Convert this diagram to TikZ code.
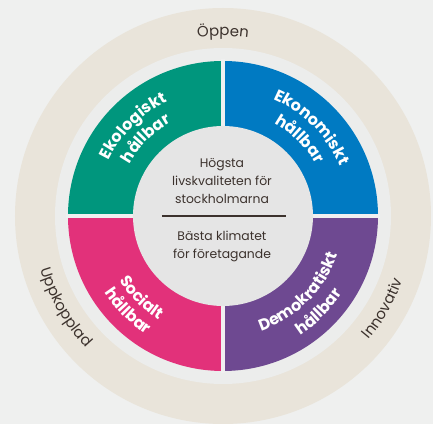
\documentclass[tikz,border=0pt]{standalone}
\usepackage{fontspec}
\setmainfont{Poppins}
\usetikzlibrary{decorations.text}

\definecolor{inkbrown}{RGB}{60,50,45}
\newcommand{\corefont}{\fontsize{9.3}{13.3}\selectfont}
\newcommand{\ringfont}{\fontsize{11.2}{12}\selectfont}
\newcommand{\quadfont}{\fontsize{12}{12}\selectfont\bfseries}

\tikzset{every picture/.style={line width=0.75pt}}
\tikzset{
  bgfill/.style={fill={rgb, 255:red, 239; green, 240; blue, 239}},
  ringfill/.style={fill={rgb, 255:red, 233; green, 228; blue, 218}},
  discfill/.style={fill={rgb, 255:red, 236; green, 237; blue, 236}},
  corefill/.style={fill={rgb, 255:red, 229; green, 229; blue, 229}},
  gap/.style={draw={rgb, 255:red, 240; green, 240; blue, 240}, line width=2.5pt},
  ekofill/.style={fill={rgb, 255:red, 0; green, 150; blue, 125}},
  ekonfill/.style={fill={rgb, 255:red, 0; green, 122; blue, 194}},
  socfill/.style={fill={rgb, 255:red, 226; green, 49; blue, 122}},
  demfill/.style={fill={rgb, 255:red, 110; green, 73; blue, 145}},
  ringlabel/.style={decorate, decoration={text along path, text align=center, text color=inkbrown, text={|\ringfont|#1}}},
  quadlabel/.style={decorate, decoration={text along path, text align=center, text color=white, text={|\quadfont|#1}}},
  coretext/.style={anchor=base, align=center, inner sep=0pt, text=inkbrown, font=\corefont},
}

\begin{document}
\begin{tikzpicture}[x=0.75pt,y=0.75pt]
	%Background
	\useasboundingbox (-223,-208) rectangle (210,216);
	\fill [bgfill] (-223,-208) rectangle (210,216);

	%Shape: Outer ring
	\fill [ringfill] (0,0) circle [radius=208];
	\fill [discfill] (0,0) circle [radius=168];

	%Shape: Quadrants
	\fill [ekofill] (0,0) -- (90:155) arc [start angle=90, end angle=180, radius=155] -- cycle;
	\fill [ekonfill] (0,0) -- (0:155) arc [start angle=0, end angle=90, radius=155] -- cycle;
	\fill [socfill] (0,0) -- (180:155) arc [start angle=180, end angle=270, radius=155] -- cycle;
	\fill [demfill] (0,0) -- (270:155) arc [start angle=270, end angle=360, radius=155] -- cycle;
	\draw [gap] (0,157) -- (0,-157);
	\draw [gap] (-157,0) -- (157,0);

	%Shape: Core circle
	\fill [corefill] (0,0) circle [radius=90];

	% Quadrant labels
	\path [quadlabel=Ekologiskt] (195:127) arc [start angle=195, end angle=75, radius=127];
	\path [quadlabel=hållbar] (195:107) arc [start angle=195, end angle=75, radius=107];
	\path [quadlabel=Ekonomiskt] (105:127) arc [start angle=105, end angle=-15, radius=127];
	\path [quadlabel=hållbar] (105:106) arc [start angle=105, end angle=-15, radius=106];
	\path [quadlabel=Socialt] (165:122) arc [start angle=165, end angle=285, radius=122];
	\path [quadlabel=hållbar] (165:141) arc [start angle=165, end angle=285, radius=141];
	\path [quadlabel=Demokratiskt] (-105:121) arc [start angle=-105, end angle=15, radius=121];
	\path [quadlabel=hållbar] (-105:142) arc [start angle=-105, end angle=15, radius=142];

	% Ring labels
	\path [ringlabel=Öppen] (150:180) arc [start angle=150, end angle=30, radius=180];
	\path [ringlabel=Uppkopplad] (150:190) arc [start angle=150, end angle=270, radius=190];
	\path [ringlabel=Innovativ] (-90:191) arc [start angle=-90, end angle=30, radius=191];

	% Core text
	\coordinate (rule west) at (-61,0);
	\coordinate (rule east) at (63,0);
	\draw [inkbrown, line width=1pt] (rule west) -- (rule east);
	\node (quality) [coretext] at (-1,12.7) {Högsta\\livskvaliteten för\\stockholmarna};
	\node (climate) [coretext] at (-1,-42.3) {Bästa klimatet\\för företagande};
\end{tikzpicture}
\end{document}
